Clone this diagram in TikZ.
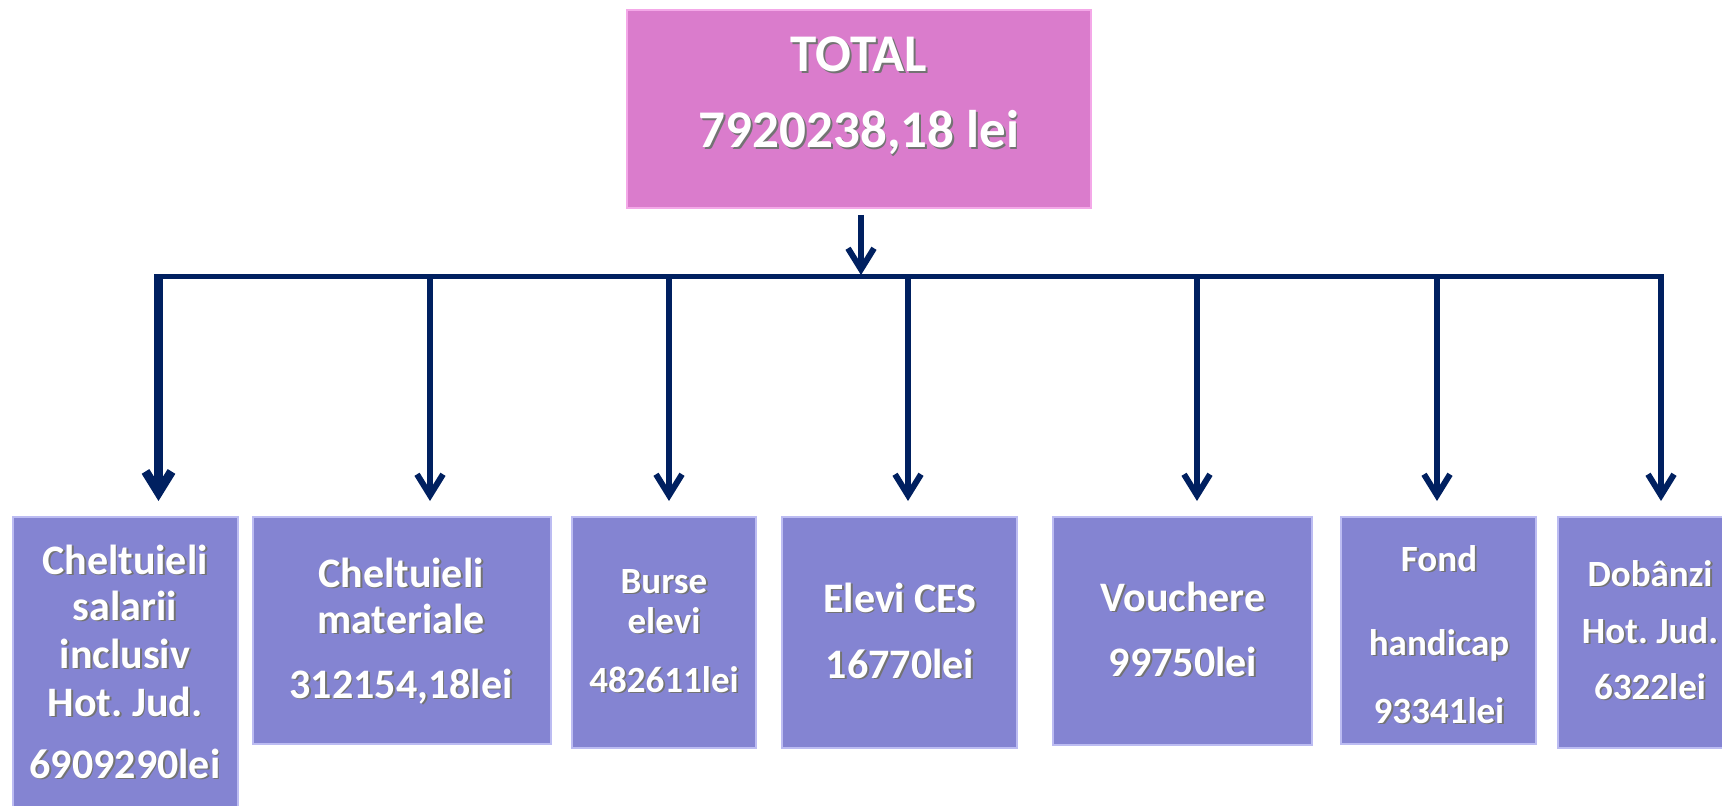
\documentclass[tikz,border=0pt]{standalone}
\usepackage{fontspec}
\setmainfont{Carlito}
\frenchspacing
\usetikzlibrary{arrows.meta}
\definecolor{navy}{HTML}{002060}
\definecolor{boxblue}{HTML}{8484D2}
\definecolor{boxpink}{HTML}{DA7CCC}
\definecolor{edgeblue}{HTML}{BCBCF2}
\definecolor{edgepink}{HTML}{F4A8E8}
\newcommand\stx[1]{\leavevmode\rlap{\kern0.9pt\raisebox{-0.9pt}{\color{black!55}#1}}#1}
\begin{document}
\begin{tikzpicture}[x=0.5pt,y=-0.5pt,
  bluebox/.style={draw=edgeblue, line width=1pt, fill=boxblue, inner sep=0pt, anchor=north west},
  pinkbox/.style={draw=edgepink, line width=1pt, fill=boxpink, inner sep=0pt, anchor=north west},
  lbl/.style={anchor=base, inner sep=0pt, text=white, font=\bfseries\fontsize{21}{24}\selectfont},
  lbls/.style={lbl, font=\bfseries\fontsize{18.5}{22}\selectfont},
  lblt/.style={lbl, font=\bfseries\fontsize{26.5}{30}\selectfont},
  bus/.style={draw=navy, line width=2.5pt},
  arr/.style={draw=navy, line width=3pt, -{Straight Barb[length=10.5pt,width=13pt]}, shorten >=7.5pt}
]
\useasboundingbox (0,0) rectangle (1722,806);
\clip (0,0) rectangle (1722,806);
\fill[white] (0,0) rectangle (1722,806);

% boxes
\node[pinkbox, minimum width=232pt, minimum height=99pt] (top) at (626,9) {};
\node[bluebox, minimum width=112.5pt, minimum height=157pt] (b1) at (12,516) {};
\node[bluebox, minimum width=149pt, minimum height=113.5pt] (b2) at (252,516) {};
\node[bluebox, minimum width=92pt, minimum height=115.5pt] (b3) at (571,516) {};
\node[bluebox, minimum width=117.5pt, minimum height=115.5pt] (b4) at (781,516) {};
\node[bluebox, minimum width=129.5pt, minimum height=114pt] (b5) at (1052,516) {};
\node[bluebox, minimum width=97.5pt, minimum height=113.5pt] (b6) at (1340,516) {};
\node[bluebox, minimum width=92pt, minimum height=115.5pt] (b7) at (1557,516) {};

% texts
\node[lblt] (tt1) at (859,72) {\stx{TOTAL}};
\node[lblt] (tt2) at (859,148) {\stx{7920238,18 lei}};

\node[lbl] (t1a) at (125,574) {\stx{Cheltuieli}};
\node[lbl] (t1b) at (125,620) {\stx{salarii}};
\node[lbl] (t1c) at (125,668) {\stx{inclusiv}};
\node[lbl] (t1d) at (125,716) {\stx{Hot. Jud.}};
\node[lbl] (t1e) at (125,778) {\stx{6909290lei}};

\node[lbl] (t2a) at (401,587) {\stx{Cheltuieli}};
\node[lbl] (t2b) at (401,633) {\stx{materiale}};
\node[lbl] (t2c) at (401,698) {\stx{312154,18lei}};

\node[lbls] (t3a) at (664,593) {\stx{Burse}};
\node[lbls] (t3b) at (664,633) {\stx{elevi}};
\node[lbls] (t3c) at (664,692) {\stx{482611lei}};

\node[lbl] (t4a) at (900,612) {\stx{Elevi CES}};
\node[lbl] (t4b) at (900,678) {\stx{16770lei}};

\node[lbl] (t5a) at (1183,611) {\stx{Vouchere}};
\node[lbl] (t5b) at (1183,676) {\stx{99750lei}};

\node[lbls] (t6a) at (1439,571) {\stx{Fond}};
\node[lbls] (t6b) at (1439,655) {\stx{handicap}};
\node[lbls] (t6c) at (1439,723) {\stx{93341lei}};

\node[lbls] (t7a) at (1650,586) {\stx{Dobânzi}};
\node[lbls] (t7b) at (1650,643) {\stx{Hot. Jud.}};
\node[lbls] (t7c) at (1650,699) {\stx{6322lei}};

% bus
\coordinate (jT) at (861,277);
\coordinate (j1) at (158.5,277);
\coordinate (j2) at (430,277);
\coordinate (j3) at (669,277);
\coordinate (j4) at (908,277);
\coordinate (j5) at (1197,277);
\coordinate (j6) at (1437,277);
\coordinate (j7) at (1661,277);
\coordinate (jL) at (154,277);
\coordinate (jR) at (1664,277);
\draw[bus] (jL) -- (jR);

% connectors
\draw[arr, shorten <=3pt, shorten >=1pt] (top.south -| jT) -- (jT);
\draw[arr, line width=4.5pt] (j1) -- (j1 |- b1.north);
\draw[arr] (j2) -- (j2 |- b2.north);
\draw[arr] (j3) -- (j3 |- b3.north);
\draw[arr] (j4) -- (j4 |- b4.north);
\draw[arr] (j5) -- (j5 |- b5.north);
\draw[arr] (j6) -- (j6 |- b6.north);
\draw[arr] (j7) -- (j7 |- b7.north);
\end{tikzpicture}
\end{document}
